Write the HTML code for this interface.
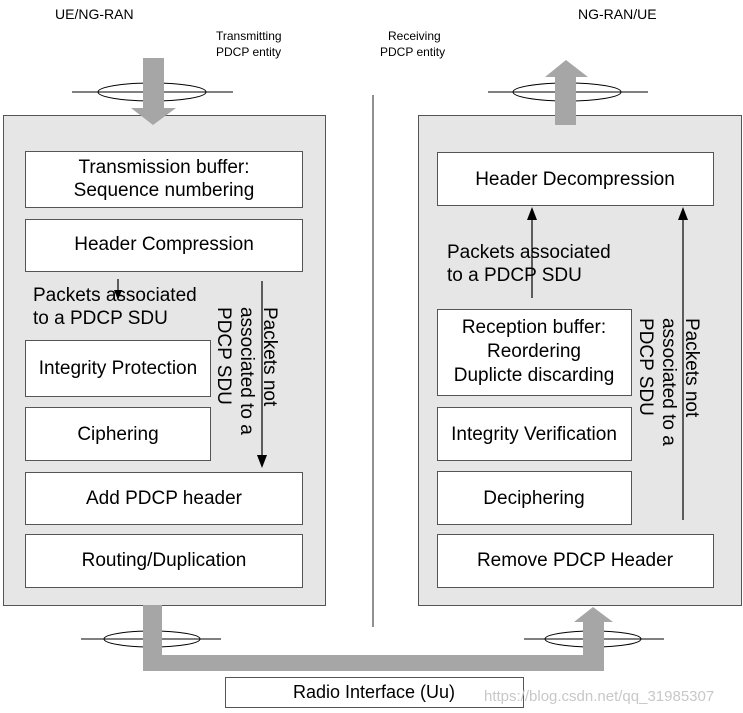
<!DOCTYPE html>
<html><head><meta charset="utf-8"><style>body{margin:0;background:#fff}svg{display:block}text{font-family:"Liberation Sans",Arial,sans-serif;fill:#000}</style></head>
<body>
<svg width="743" height="713" viewBox="0 0 743 713" xmlns="http://www.w3.org/2000/svg">
<text x="55" y="19" font-size="14">UE/NG-RAN</text>
<text x="578" y="19" font-size="14">NG-RAN/UE</text>
<text x="216" y="40" font-size="12">Transmitting</text>
<text x="216" y="56" font-size="12">PDCP  entity</text>
<text x="388" y="40" font-size="12">Receiving</text>
<text x="380" y="56" font-size="12">PDCP  entity</text>
<line x1="373" y1="95" x2="373" y2="627" stroke="#555" stroke-width="1.3"/>
<rect x="3.5" y="115.5" width="322" height="490" fill="#e6e6e6" stroke="#555"/>
<rect x="418.5" y="115.5" width="323" height="490" fill="#e6e6e6" stroke="#555"/>
<line x1="72" y1="92" x2="233" y2="92" stroke="#000"/>
<ellipse cx="152" cy="92" rx="54" ry="9" fill="none" stroke="#000"/>
<polygon points="143,58 164,58 164,108 176,108 153,125 131,108 143,108" fill="#a6a6a6"/>
<line x1="488" y1="92" x2="648" y2="92" stroke="#000"/>
<ellipse cx="567" cy="92" rx="54" ry="9" fill="none" stroke="#000"/>
<polygon points="555,125 576,125 576,77 588,77 566,60 545,77 555,77" fill="#a6a6a6"/>
<line x1="81" y1="639" x2="221" y2="639" stroke="#000"/>
<ellipse cx="152" cy="639" rx="48" ry="8" fill="none" stroke="#000"/>
<line x1="524" y1="639" x2="664" y2="639" stroke="#000"/>
<ellipse cx="593" cy="639" rx="48" ry="8" fill="none" stroke="#000"/>
<polygon points="143,605 162,605 162,655 583,655 583,622 574,622 593,607 613,622 604,622 604,671 143,671" fill="#a6a6a6"/>
<rect x="225.5" y="677.5" width="298" height="30" fill="#fff" stroke="#555"/>
<text x="374" y="698" font-size="18" text-anchor="middle">Radio Interface (Uu)</text>
<text x="484" y="701" font-size="15" style="fill:#c8c8c8">https://blog.csdn.net/qq_31985307</text>
<g fill="#fff" stroke="#555">
<rect x="25.5" y="151.5" width="277" height="56"/>
<rect x="25.5" y="219.5" width="277" height="52"/>
<rect x="25.5" y="340.5" width="185" height="56"/>
<rect x="25.5" y="407.5" width="185" height="53"/>
<rect x="25.5" y="472.5" width="277" height="52"/>
<rect x="25.5" y="534.5" width="277" height="53"/>
<rect x="437.5" y="152.5" width="276" height="53"/>
<rect x="437.5" y="309.5" width="194" height="86"/>
<rect x="437.5" y="407.5" width="194" height="53"/>
<rect x="437.5" y="471.5" width="194" height="53"/>
<rect x="437.5" y="534.5" width="276" height="53"/>
</g>
<g font-size="19" text-anchor="middle">
<text x="164" y="173">Transmission buffer:</text>
<text x="164" y="196">Sequence numbering</text>
<text x="164" y="250">Header Compression</text>
<text x="118" y="374">Integrity Protection</text>
<text x="118" y="440">Ciphering</text>
<text x="164" y="504">Add PDCP header</text>
<text x="164" y="566">Routing/Duplication</text>
<text x="575" y="185">Header Decompression</text>
<text x="534" y="333">Reception buffer:</text>
<text x="534" y="357">Reordering</text>
<text x="534" y="381">Duplicte discarding</text>
<text x="534" y="440">Integrity Verification</text>
<text x="534" y="504">Deciphering</text>
<text x="575" y="566">Remove PDCP Header</text>
</g>
<g font-size="19">
<text x="33" y="301">Packets associated</text>
<text x="33" y="324">to a PDCP SDU</text>
<text x="447" y="258">Packets associated</text>
<text x="447" y="281">to a PDCP SDU</text>
<text transform="translate(264,307) rotate(90)">Packets not</text>
<text transform="translate(241,307) rotate(90)">associated to a</text>
<text transform="translate(218,307) rotate(90)">PDCP SDU</text>
<text transform="translate(686,318) rotate(90)">Packets not</text>
<text transform="translate(663,318) rotate(90)">associated to a</text>
<text transform="translate(640,318) rotate(90)">PDCP SDU</text>
</g>
<g stroke="#000" stroke-width="1.2">
<line x1="118" y1="279" x2="118" y2="290"/>
<line x1="262" y1="281" x2="262" y2="455"/>
<line x1="532" y1="298" x2="532" y2="220"/>
<line x1="683" y1="520" x2="683" y2="220"/>
</g>
<g fill="#000">
<polygon points="114,290 122,290 118,300"/>
<polygon points="257,455 267,455 262,468"/>
<polygon points="527,220 537,220 532,207"/>
<polygon points="678,220 688,220 683,207"/>
</g>
</svg>
</body></html>
